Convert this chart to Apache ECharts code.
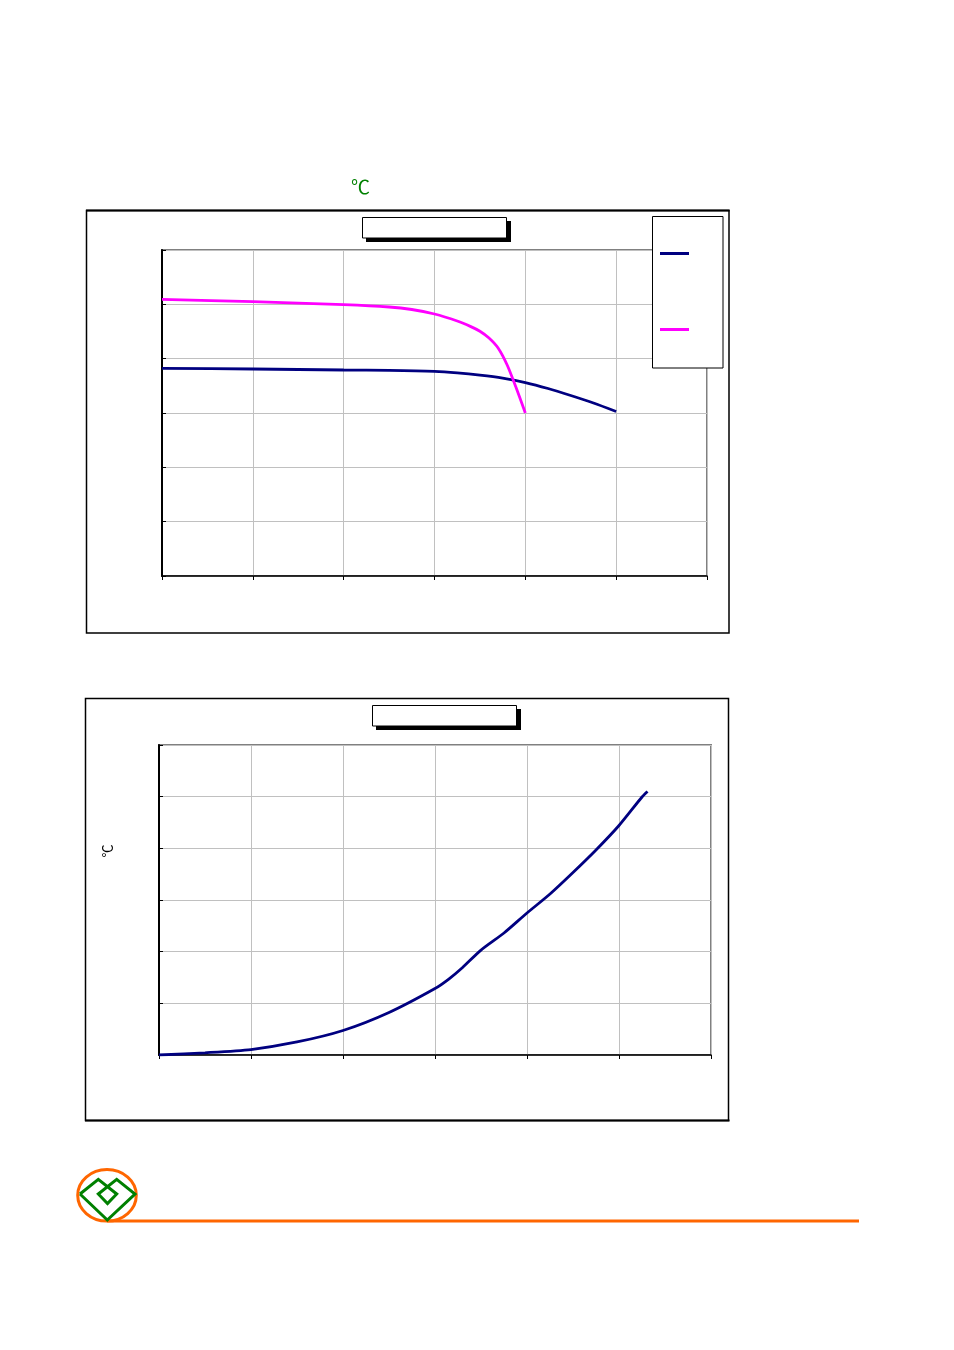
<!DOCTYPE html>
<html>
<head>
<meta charset="utf-8">
<script src="https://cdn.jsdelivr.net/npm/echarts@6/dist/echarts.min.js"></script>
<style>
html,body{margin:0;padding:0;background:#fff;}
#c{width:954px;height:1350px;}
</style>
</head>
<body>
<div id="c"></div>
<script>
// Chart 1 data (x in arbitrary units 0..120, y 0..60)
var c1_xTicks = [0, 20, 40, 60, 80, 100, 120];
var c1_navyX = [0, 20, 40, 50, 60, 65, 70, 75, 80, 85, 90, 95, 100];
var c1_navyY = [38.23, 38.10, 37.91, 37.85, 37.67, 37.40, 36.99, 36.44, 35.61, 34.51, 33.22, 31.84, 30.28];
var c1_pinkX = [0, 20, 40, 50, 55, 60, 65, 68, 70, 72, 74, 76, 78, 80];
var c1_pinkY = [50.93, 50.48, 49.93, 49.51, 49.05, 48.22, 46.93, 45.90, 45.05, 43.80, 41.96, 38.83, 34.60, 30.0];
var c1_names = ['曲线1', '曲线2'];

// Chart 2 data
var c2_x = [0, 10, 20, 30, 40, 50, 60, 63, 66, 70, 75, 80, 85, 90, 95, 100, 105, 106.2];
var c2_y = [0, 0.43, 1.06, 2.52, 4.74, 8.23, 12.87, 14.7, 16.94, 20.3, 23.61, 27.48, 31.16, 35.32, 39.68, 44.42, 49.94, 51.0];

function pairs(xs, ys){ return xs.map(function(x,i){ return [x, ys[i]]; }); }

var chart = echarts.init(document.getElementById('c'), null, {renderer:'canvas'});

function xAxisDef(gi){
  return {
    type:'value', gridIndex:gi, min:0, max:120, interval:20,
    axisLabel:{show:false},
    axisLine:{show:true, onZero:false, lineStyle:{color:'#000', width:1.5}},
    axisTick:{show:true, length:4, lineStyle:{color:'#000', width:1}},
    splitLine:{show:true, lineStyle:{color:'#c0c0c0', width:1}}
  };
}
function yAxisDef(gi){
  return {
    type:'value', gridIndex:gi, min:0, max:60, interval:10,
    axisLabel:{show:false},
    axisLine:{show:true, onZero:false, lineStyle:{color:'#000', width:2}},
    axisTick:{show:true, inside:true, length:4, lineStyle:{color:'#000', width:1}},
    splitLine:{show:true, lineStyle:{color:'#c0c0c0', width:1}}
  };
}

var logo = [[80,1194],[98.3,1179.3],[116.7,1194],[107.5,1203.5],[98.3,1194],[116.7,1179.3],[135,1194],[107.3,1220],[80,1194]];

var option = {
  animation:false,
  backgroundColor:'#fff',
  grid:[
    {left:162, top:250, width:545, height:326, show:true, borderColor:'#808080', borderWidth:2, backgroundColor:'transparent'},
    {left:159, top:745, width:552, height:310, show:true, borderColor:'#808080', borderWidth:2, backgroundColor:'transparent'}
  ],
  xAxis:[xAxisDef(0), xAxisDef(1)],
  yAxis:[yAxisDef(0), yAxisDef(1)],
  legend:{
    show:true, orient:'vertical', left:660, top:252, z:20, padding:0,
    itemWidth:29, itemHeight:3, itemGap:73, icon:'rect',
    formatter:function(){ return ''; },
    data:[c1_names[0], c1_names[1]]
  },
  series:[
    {name:c1_names[0], type:'line', xAxisIndex:0, yAxisIndex:0, data:pairs(c1_navyX, c1_navyY),
     smooth:0.25, showSymbol:false, lineStyle:{color:'#000080', width:2.8}, itemStyle:{color:'#000080'}},
    {name:c1_names[1], type:'line', xAxisIndex:0, yAxisIndex:0, data:pairs(c1_pinkX, c1_pinkY),
     smooth:0.25, showSymbol:false, lineStyle:{color:'#ff00ff', width:2.8}, itemStyle:{color:'#ff00ff'}},
    {name:'曲线3', type:'line', xAxisIndex:1, yAxisIndex:1, data:pairs(c2_x, c2_y),
     smooth:0.25, showSymbol:false, lineStyle:{color:'#000080', width:2.8}, itemStyle:{color:'#000080'}}
  ],
  graphic:[
    {type:'rect', z:1, shape:{x:86.5, y:210.5, width:642.5, height:422.5}, style:{fill:'none', stroke:'#000', lineWidth:1.5}},
    {type:'line', z:1, shape:{x1:86, y1:210.5, x2:729.5, y2:210.5}, style:{stroke:'#000', lineWidth:2}},
    {type:'text', z:5, left:351, top:177, style:{text:'℃', fill:'#008000', font:'19px "Noto Sans CJK SC", sans-serif'}},
    {type:'rect', z:5, shape:{x:366, y:221, width:145, height:21}, style:{fill:'#000'}},
    {type:'rect', z:6, shape:{x:362.5, y:217.5, width:144, height:20.5}, style:{fill:'#fff', stroke:'#000', lineWidth:1}},
    {type:'rect', z:8, shape:{x:652.5, y:216.5, width:70.5, height:151.5}, style:{fill:'#fff', stroke:'#000', lineWidth:1}},
    {type:'rect', z:1, shape:{x:85.5, y:698.5, width:643, height:422}, style:{fill:'none', stroke:'#000', lineWidth:1.5}},
    {type:'line', z:1, shape:{x1:85, y1:1120.5, x2:729.5, y2:1120.5}, style:{stroke:'#000', lineWidth:2}},
    {type:'rect', z:5, shape:{x:376, y:709, width:145, height:21}, style:{fill:'#000'}},
    {type:'rect', z:6, shape:{x:372.5, y:705.5, width:144, height:20.5}, style:{fill:'#fff', stroke:'#000', lineWidth:1}},
    {type:'text', z:5, x:107, y:851, rotation:Math.PI/2, style:{text:'℃', fill:'#000', font:'13px "Noto Sans CJK SC", sans-serif', textAlign:'center', textVerticalAlign:'middle'}},
    {type:'line', z:1, shape:{x1:107, y1:1221, x2:859, y2:1221}, style:{stroke:'#ff6600', lineWidth:3}},
    {type:'ellipse', z:2, shape:{cx:107, cy:1195.3, rx:29.3, ry:25.8}, style:{fill:'none', stroke:'#ff6600', lineWidth:3}},
    {type:'polyline', z:3, shape:{points:logo}, style:{fill:'none', stroke:'#008000', lineWidth:3, lineJoin:'miter'}}
  ]
};
chart.setOption(option);
</script>
</body>
</html>
